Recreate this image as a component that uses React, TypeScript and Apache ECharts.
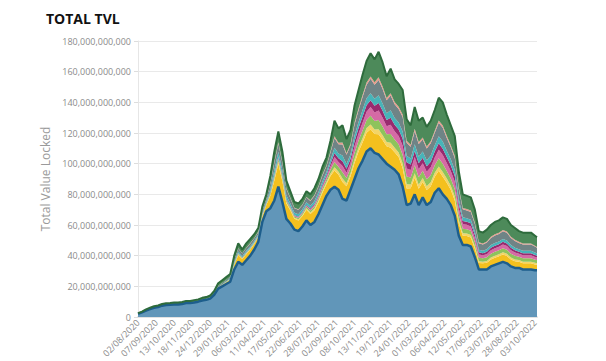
import React, { useEffect, useRef } from "react";
import * as echarts from "echarts";

// Sample days (offset from 02/08/2020), every 8 days
const startDate = Date.UTC(2020, 7, 2);
const DAY = 86400000;
const sampleDays: number[] = Array.from({ length: 100 }, (_, i) => i * 8).concat([796]);

// Values in billions USD
const baseBlue = [2,3,4.2,5.2,6,6.5,7.4,7.8,8,8.2,8.1,8.5,9.1,9.1,9.5,10,10.8,11.2,12,14.5,18.5,20,21.5,23,31,36,34,37,40,44,49,62,69,71,76,85,75,64,61,57,56,59,63,60,62,67,73,79,83,85,83,77,76,83,90,97,102,108,110,107,106,103,100,98,96,93,85,73,74,80,73,78,73,75,81,84,80,77,73,66,53,47,47,46,39,31,31,31,33,34,35,36,35,33,32,32,31,31,31,30.5,30.5];
const yellow = [0,0,0,0,0,0,0,0,0,0,0,0,0,0,0,0,0.1,0.1,0.2,0.4,0.8,1,1.2,1.5,3,4.5,3.8,4,4,3.6,3.2,3.6,4,8,13,15,13.5,10,8.5,7,7,6.8,7,7.2,7.6,7.8,8,7.8,9,10.5,9.8,11,9.2,8.8,10.5,11,11.8,12.2,12.5,12.3,13.2,12.4,11.3,12.4,11.5,11.4,12,10.8,9.9,11,10.6,10,9.8,10.2,10.4,11.3,11.5,10.6,10,10,8,6,5.8,5.8,5.6,4.2,4,4.3,4.5,4.6,4.6,4.8,4.8,4.5,4.3,4,4,4,4,3.7,3.6];
const gold = [0,0,0,0,0,0,0,0,0,0,0,0,0,0,0,0,0,0,0,0,0,0,0.1,0.1,0.3,0.4,0.3,0.4,0.4,0.4,0.3,0.4,0.4,0.8,1.2,1.4,1.3,1,0.8,0.7,0.7,0.8,0.9,1,1.1,1.2,1.3,1.3,1.6,2.2,2,2.4,2,2,2.4,2.6,2.8,3,3.1,3,3.3,3.1,2.8,3.2,2.9,2.9,3.1,2.8,2.5,2.8,2.7,2.6,2.5,2.6,2.7,2.9,3,2.7,2.6,2.6,2.1,1.6,1.6,1.6,1.5,1.2,1.1,1.2,1.3,1.3,1.3,1.4,1.4,1.3,1.2,1.1,1.1,1.1,1.1,1.1,1];
const lightGreen = [0,0,0,0,0,0,0,0,0,0,0,0,0,0,0,0,0,0,0,0,0.1,0.1,0.2,0.2,0.4,0.5,0.4,0.5,0.5,0.5,0.4,0.5,0.5,1,1.5,1.7,1.6,1.2,1,0.9,0.9,1,1.1,1.2,1.4,1.5,1.7,1.8,2.4,3.4,3.2,4,3.4,3.3,4.2,4.5,5,5.3,5.6,5.5,6,5.7,5.1,5.8,5.3,5.3,5.7,5,4.6,5.1,4.9,4.7,4.6,4.8,4.9,5.3,5.4,4.9,4.7,4.7,3.8,3,2.9,2.9,2.8,2.3,2.2,2.4,2.5,2.6,2.6,2.7,2.7,2.5,2.4,2.2,2.2,2.2,2.2,2.1,2];
const pink = [0,0,0,0,0,0,0,0,0,0,0,0,0,0,0,0,0,0,0,0,0,0,0,0,0.1,0.2,0.2,0.2,0.2,0.2,0.2,0.2,0.2,0.4,0.6,0.7,0.7,0.5,0.4,0.4,0.4,0.5,0.6,0.7,0.9,1,1.3,1.4,2.2,3.3,3.1,4,3.4,3.4,4.3,4.6,5.1,5.4,5.7,5.6,6.2,5.8,5.2,5.9,5.4,5.5,5.9,5.3,4.8,5.4,5.2,4.9,4.8,5,5.1,5.6,5.7,5.2,4.9,4.9,3.9,2.9,2.8,2.8,2.7,2,1.9,2.1,2.2,2.3,2.3,2.4,2.4,2.2,2.1,1.9,1.9,1.9,1.9,1.8,1.7];
const magenta = [0,0,0,0,0,0,0,0,0,0,0,0,0,0,0,0,0,0,0,0,0,0,0,0,0,0.1,0.1,0.1,0.1,0.1,0.1,0.1,0.1,0.3,0.5,0.6,0.6,0.4,0.4,0.3,0.3,0.4,0.5,0.6,0.7,0.8,1,1.1,1.7,2.6,2.4,3.2,2.7,2.7,3.3,3.6,4,4.2,4.4,4.3,4.8,4.5,4.1,4.6,4.2,4.2,4.5,4,3.6,4,3.9,3.7,3.6,3.7,3.8,4.2,4.2,3.9,3.7,3.7,2.9,2.1,2,2,2,1.5,1.4,1.5,1.6,1.6,1.6,1.7,1.7,1.6,1.5,1.4,1.4,1.4,1.4,1.3,1.2];
const teal = [0,0,0,0,0,0,0,0,0,0,0,0,0,0,0,0,0,0,0.1,0.1,0.2,0.3,0.3,0.4,0.8,1,0.9,1,1,0.9,0.8,0.9,1,2,3,3.3,3,2.3,2,1.7,1.7,1.7,1.8,1.9,2,2.1,2.2,2.2,2.6,3.4,3.1,3.7,3.1,3,3.7,3.9,4.3,4.5,4.7,4.6,5.1,4.8,4.3,4.9,4.5,4.5,4.8,4.3,3.9,4.3,4.2,4,3.9,4,4.1,4.5,4.6,4.2,4,4,3.2,2.4,2.3,2.3,2.2,1.7,1.6,1.7,1.8,1.9,1.9,1.9,1.9,1.8,1.7,1.6,1.6,1.6,1.6,1.5,1.4];
const grey = [0.1,0.1,0.2,0.2,0.2,0.2,0.2,0.2,0.2,0.3,0.3,0.3,0.3,0.3,0.3,0.3,0.3,0.4,0.4,0.5,0.7,0.8,0.9,1,1.6,2,1.7,1.8,1.8,1.6,1.5,1.6,1.8,3.5,5,5.5,5,4,3.3,2.9,2.9,2.8,3,3.1,3.4,3.5,3.8,3.8,4.8,6.4,6,7.2,6,5.8,7.2,7.6,8.4,8.8,9.3,9.2,10,9.4,8.6,9.6,8.9,8.9,9.5,8.4,7.7,8.6,8.3,7.8,7.7,8,8.1,8.9,9,8.3,7.8,7.8,6.4,5.2,5.1,5.1,5,4.2,4.1,4.4,4.6,4.8,4.8,5,5,4.6,4.4,4.1,4.1,4.1,4.1,3.9,3.7];
const salmon = [0,0,0,0,0,0,0,0,0,0,0,0,0,0,0,0,0,0,0,0,0,0,0,0,0,0.2,0.2,0.2,0.2,0.2,0.2,0.2,0.2,0.4,0.6,0.7,0.6,0.5,0.4,0.4,0.4,0.4,0.4,0.5,0.5,0.6,0.6,0.6,0.8,1.1,1,1.3,1,1,1.2,1.3,1.4,1.5,1.6,1.6,1.7,1.6,1.5,1.6,1.5,1.5,1.6,1.4,1.3,1.5,1.4,1.3,1.3,1.4,1.4,1.5,1.5,1.4,1.3,1.3,1.1,0.9,0.9,0.9,0.8,0.7,0.7,0.7,0.8,0.8,0.8,0.8,0.8,0.8,0.7,0.7,0.7,0.7,0.7,0.6,0.6];
const topGreen = [0.4,0.4,0.6,0.6,0.8,0.8,0.9,1,1,1,1,1,1.1,1.1,1.2,1.2,1.3,1.3,1.3,1.5,1.7,1.8,1.8,1.8,2.8,3.1,2.4,2.8,2.8,2.5,2.3,2.5,2.8,4.6,6.6,7.1,6.7,5.1,4.2,3.7,3.7,3.6,3.7,3.8,4.4,4.5,5.1,5,6.9,10.1,9.4,11.2,9.2,9,11.2,11.9,13.2,14.1,15.1,14.9,16.7,15.7,14.1,16,14.8,14.8,15.9,14,12.7,14.3,13.8,13,12.8,13.3,13.5,14.8,15.1,13.8,13,13,10.6,8.9,8.6,8.6,8.4,7.2,7,7.7,7.7,8.1,8.1,8.3,8.3,7.7,7.7,7,7,7,7,6.5,6.3];

const layers = [
  { name: "Layer 1", values: baseBlue, color: "#6196b9" },
  { name: "Layer 2", values: yellow, color: "#f4c01e" },
  { name: "Layer 3", values: gold, color: "#f3d566" },
  { name: "Layer 4", values: lightGreen, color: "#8ec35c" },
  { name: "Layer 5", values: pink, color: "#d56aa5" },
  { name: "Layer 6", values: magenta, color: "#992a6f" },
  { name: "Layer 7", values: teal, color: "#47b4b9" },
  { name: "Layer 8", values: grey, color: "#6f8486" },
  { name: "Layer 9", values: salmon, color: "#e99a8a" },
  { name: "Layer 10", values: topGreen, color: "#4d8a5a" },
];

const LAST_DAY = 796;
const TICK_DAYS = 36;

function fmtDate(day: number): string {
  const d = new Date(startDate + day * DAY);
  const dd = String(d.getUTCDate()).padStart(2, "0");
  const mm = String(d.getUTCMonth() + 1).padStart(2, "0");
  return `${dd}/${mm}/${d.getUTCFullYear()}`;
}

export default function App() {
  const ref = useRef<HTMLDivElement>(null);
  useEffect(() => {
    if (!ref.current) return;
    const chart = echarts.init(ref.current, undefined, { renderer: "svg" });
    const font = "'Open Sans', 'Noto Sans', sans-serif";
    const series = layers.map((l, i) => {
      const isBase = i === 0;
      const isTop = i === layers.length - 1;
      return {
        name: l.name,
        type: "line",
        stack: "tvl",
        xAxisIndex: 0,
        symbol: "none",
        data: l.values.map((v, j) => [startDate + sampleDays[j] * DAY, v]),
        lineStyle: isBase
          ? { width: 2.5, color: "#1d5e8c" }
          : isTop
          ? { width: 2, color: "#2e6b3c" }
          : { width: 0 },
        areaStyle: { color: l.color, opacity: 1 },
        itemStyle: { color: l.color },
      };
    });
    chart.setOption({
      animation: false,
      title: {
        text: "TOTAL TVL",
        left: 41,
        top: 6,
        textStyle: { fontFamily: font, fontWeight: "bold", fontSize: 14, color: "#111" },
      },
      grid: { left: 138, right: 69, top: 41, bottom: 44 },
      xAxis: [
        {
          type: "time",
          min: startDate,
          max: startDate + LAST_DAY * DAY,
          show: false,
        },
        {
          type: "value",
          position: "bottom",
          min: 0,
          max: LAST_DAY,
          interval: TICK_DAYS,
          axisLine: { show: true, lineStyle: { color: "#e2e2e2", width: 2 } },
          axisTick: { show: false },
          splitLine: { show: false },
          axisLabel: {
            rotate: 45,
            fontSize: 9,
            fontFamily: font,
            color: "#8a8a8a",
            margin: 4,
            showMaxLabel: false,
            formatter: (v: number) => fmtDate(v),
          },
        },
      ],
      yAxis: {
        type: "value",
        min: 0,
        max: 180,
        interval: 20,
        name: "Total Value Locked",
        nameLocation: "middle",
        nameGap: 77,
        nameTextStyle: { fontFamily: font, fontSize: 12, color: "#9a9a9a" },
        axisLine: { show: true, lineStyle: { color: "#e6e6e6" } },
        axisTick: { show: true, length: 4, lineStyle: { color: "#dddddd" } },
        splitLine: { lineStyle: { color: "#e9e9e9" } },
        axisLabel: {
          fontSize: 9,
          fontFamily: font,
          color: "#8a8a8a",
          margin: 7,
          formatter: (v: number) => (v * 1e9).toLocaleString("en-US"),
        },
      },
      series,
    });
    return () => chart.dispose();
  }, []);
  return (
    <div
      ref={ref}
      style={{ position: "fixed", left: 0, top: 0, width: 606, height: 361, background: "#fff" }}
    />
  );
}
